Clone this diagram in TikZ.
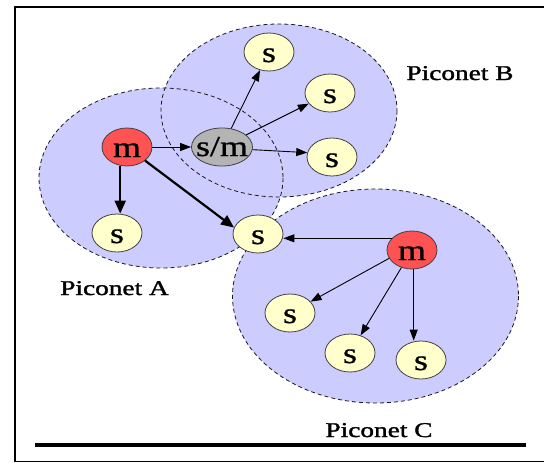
\documentclass[tikz,border=0pt]{standalone}
\usepackage{fontspec}
\usepackage{graphicx}
\setmainfont{Liberation Serif}
\newfontfamily\heavyserif[FakeBold=1.3]{Liberation Serif}
\newfontfamily\midserif[FakeBold=0.7]{Liberation Serif}
\usetikzlibrary{shapes.geometric,arrows.meta}
\definecolor{netblue}{HTML}{CCCCFF}
\definecolor{mred}{HTML}{FF5353}
\definecolor{smgray}{HTML}{B4B4B4}
\definecolor{syellow}{HTML}{FFFFCC}
\newcommand{\wide}[1]{\scalebox{1.24}[1]{#1}}
\newcommand{\widel}[1]{\scalebox{1.3}[1]{#1}}
\begin{document}
\begin{tikzpicture}[x=1pt,y=-1pt,
  net/.style={fill=netblue},
  netedge/.style={draw=black!90,dash pattern=on 4pt off 3pt,line width=0.8pt},
  dev/.style={ellipse,draw=black!75,line width=0.8pt,minimum width=50pt,minimum height=38pt,inner sep=0pt,text height=20pt,text depth=0pt,font=\midserif\fontsize{29}{30}\selectfont},
  master/.style={dev,fill=mred},
  slave/.style={dev,fill=syellow},
  bridge/.style={dev,fill=smgray,minimum width=61pt,text height=18pt},
  lbl/.style={anchor=base,font=\heavyserif\fontsize{21}{22}\selectfont},
  link/.style={line width=0.9pt,-{Triangle[length=11pt,width=8pt]}},
  heavylink/.style={line width=2.2pt,-{Triangle[length=13pt,width=11pt]}}
]
\useasboundingbox (0,0) rectangle (544,463);
% piconet areas
\fill[net] (161,178) ellipse [x radius=122, y radius=90];
\fill[net] (279,110.5) ellipse [x radius=118, y radius=86.5];
\fill[net] (375.5,296) ellipse [x radius=143, y radius=107];
\draw[netedge] (161,178) ellipse [x radius=122, y radius=90];
\draw[netedge] (279,110.5) ellipse [x radius=118, y radius=86.5];
\draw[netedge] (375.5,296) ellipse [x radius=143, y radius=107];
% frame
\draw[line width=2pt] (15,462) -- (15,7) -- (544,7);
\draw[line width=1.2pt] (15,461.6) -- (544,461.6);
\draw[line width=4pt] (35,444.5) -- (526,444.5);
% devices
\node[master] (mA) at (127,147) {\wide{m}};
\node[bridge] (sm) at (222,147) {\makebox[30pt]{\wide{s/m}}};
\node[slave] (sA) at (117,233) {\wide{s}};
\node[slave] (sAB) at (258,234) {\wide{s}};
\node[slave] (Bs1) at (269,52) {\wide{s}};
\node[slave] (Bs2) at (330,93) {\wide{s}};
\node[slave] (Bs3) at (332,157) {\wide{s}};
\node[master] (mC) at (412,250) {\wide{m}};
\node[slave] (Cs1) at (290,313) {\wide{s}};
\node[slave] (Cs2) at (350,353) {\wide{s}};
\node[slave] (Cs3) at (421,360) {\wide{s}};
% labels
\node[lbl] (lA) at (114.5,295) {\widel{Piconet A}};
\node[lbl] (lB) at (460,80) {\widel{Piconet B}};
\node[lbl] (lC) at (379,437) {\widel{Piconet C}};
% links
\draw[link] (mA) -- (sm);
\draw[heavylink] (mA.250) -- (mA.250 |- sA.north);
\draw[heavylink] (mA) -- (sAB.165);
\draw[link] (sm) -- (Bs1);
\draw[link] (sm) -- (Bs2);
\draw[link] (sm.-5) -- (Bs3.170);
\draw[link] (mC.150) -- (sAB.east |- mC.150);
\draw[link] (mC.200) -- (Cs1);
\draw[link] (mC) -- (Cs2);
\draw[link] (mC.275) -- (mC.275 |- Cs3.north);
\end{tikzpicture}
\end{document}
